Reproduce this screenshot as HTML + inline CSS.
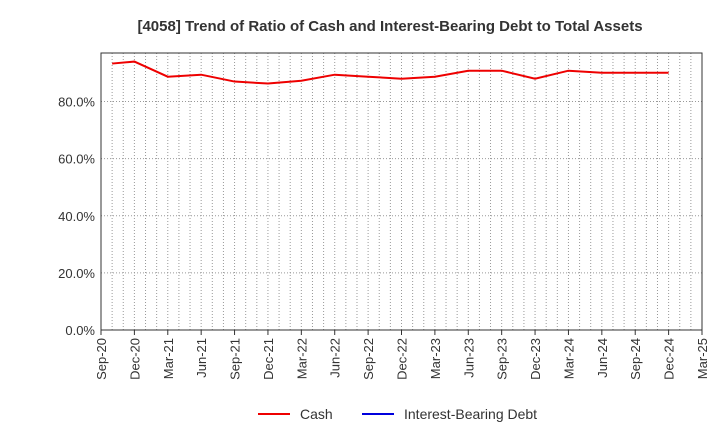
<!DOCTYPE html>
<html><head><meta charset="utf-8"><style>
body{margin:0;background:#fff;font-family:"Liberation Sans",sans-serif;}
</style></head><body>
<svg id="chart" width="720" height="440" xmlns="http://www.w3.org/2000/svg" font-family="Liberation Sans, sans-serif">
<text x="390" y="31" text-anchor="middle" font-size="15" font-weight="bold" fill="#333">[4058]  Trend of Ratio of Cash and Interest-Bearing Debt to Total Assets</text>
<g id="grid"></g><g id="axes"></g><g id="series"></g>
<g>
<line x1="258" y1="414" x2="290" y2="414" stroke="#e00" stroke-width="2"/>
<text x="300" y="419" font-size="14" fill="#333">Cash</text>
<line x1="362" y1="414" x2="394" y2="414" stroke="#00d" stroke-width="2"/>
<text x="404" y="419" font-size="14" fill="#333">Interest-Bearing Debt</text>
</g>
</svg>
<script>
const xTickLabels=["Sep-20","Dec-20","Mar-21","Jun-21","Sep-21","Dec-21","Mar-22","Jun-22","Sep-22","Dec-22","Mar-23","Jun-23","Sep-23","Dec-23","Mar-24","Jun-24","Sep-24","Dec-24","Mar-25"];
const yTicks=[0,20,40,60,80];
const cashMonths=[1,3,6,9,12,15,18,21,24,27,30,33,36,39,42,45,48,51];
const cashValues=[93.3,94.0,88.7,89.4,87.0,86.3,87.3,89.4,88.7,88.0,88.7,90.8,90.8,88.0,90.8,90.1,90.1,90.1];
const debtValues=[];
const L=101,R=702,T=53,B=330;
const x=m=>L+(R-L)*m/54;
const y=v=>B-(B-T)*v/97;
const ns="http://www.w3.org/2000/svg";
function mk(t,a,p){const e=document.createElementNS(ns,t);for(const k in a)e.setAttribute(k,a[k]);p.appendChild(e);return e;}
const g=document.getElementById('grid'),ax=document.getElementById('axes'),s=document.getElementById('series');
for(let m=1;m<54;m++){const l=mk('line',{x1:x(m),x2:x(m),y1:T,y2:B,stroke:'#999','stroke-dasharray':'1,2','stroke-width':1},g);

}
yTicks.forEach(v=>{if(v>0){const l=mk('line',{x1:L,x2:R,y1:y(v),y2:y(v),stroke:'#999','stroke-dasharray':'1,2'},g);

}
const t=mk('text',{x:L-6,y:y(v)+5,'text-anchor':'end','font-size':13,fill:'#333'},ax);t.textContent=v.toFixed(1)+'%';

});
const fr=mk('rect',{x:L,y:T,width:R-L,height:B-T,fill:'none',stroke:'#333'},ax);


xTickLabels.forEach((lab,i)=>{const xx=x(i*3);mk('line',{x1:xx,x2:xx,y1:B,y2:B+5,stroke:'#333'},ax);
const t=mk('text',{transform:`translate(${xx+5},${B+8}) rotate(-90)`,'text-anchor':'end','font-size':13,fill:'#333'},ax);t.textContent=lab;

});
const p=mk('polyline',{points:cashValues.map((v,i)=>x(cashMonths[i])+','+y(v)).join(' '),fill:'none',stroke:'#e00','stroke-width':2},s);


</script>
</body></html>
